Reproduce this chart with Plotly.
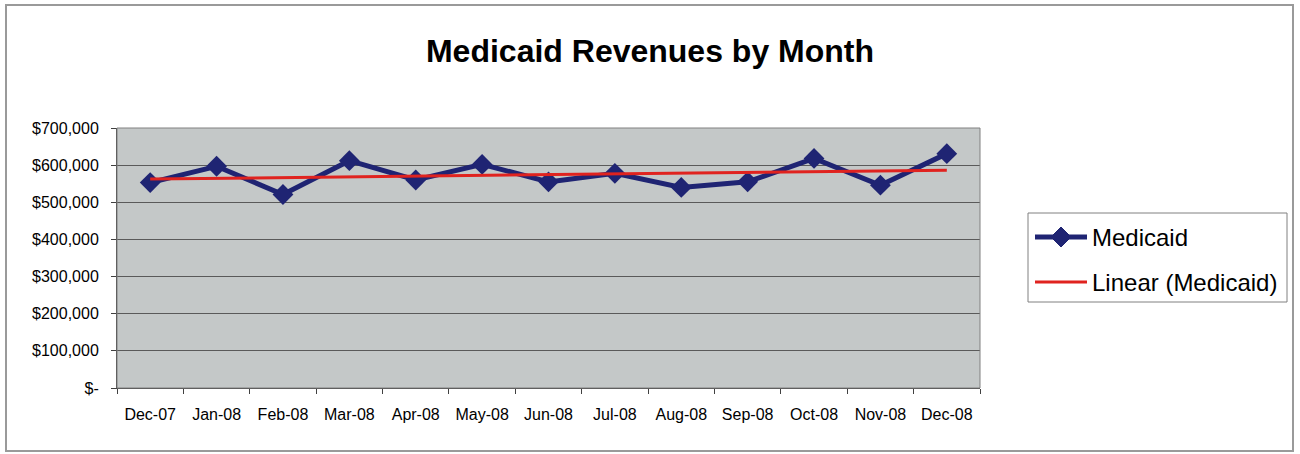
import numpy as np
import plotly.graph_objects as go

# Monthly Medicaid revenue
months = ["Dec-07", "Jan-08", "Feb-08", "Mar-08", "Apr-08", "May-08", "Jun-08",
          "Jul-08", "Aug-08", "Sep-08", "Oct-08", "Nov-08", "Dec-08"]
revenue = [553000, 597000, 521000, 612000, 560000, 602000, 555000,
           578000, 540000, 555000, 618000, 546000, 631000]

# Y axis ticks
y_tickvals = [0, 100000, 200000, 300000, 400000, 500000, 600000, 700000]
y_ticktext = ["$-", "$100,000", "$200,000", "$300,000", "$400,000",
              "$500,000", "$600,000", "$700,000"]

# Least-squares linear trend over the month index
idx = np.arange(len(revenue))
slope, intercept = np.polyfit(idx, revenue, 1)
trend = (slope * idx + intercept).tolist()

NAVY = "#1F2473"
RED = "#E0231F"
FONT = "Liberation Sans, Arial, sans-serif"

W, H = 1300, 454
L, R, T, B = 117, 320, 128, 66


def px(x):
    return (x - L) / (W - L - R)


def py(y):
    return (H - B - y) / (H - T - B)


fig = go.Figure()
fig.add_trace(go.Scatter(
    x=months, y=revenue, mode="lines+markers", name="Medicaid",
    line=dict(color=NAVY, width=5),
    marker=dict(symbol="diamond", size=16, color=NAVY),
    showlegend=False,
))
fig.add_trace(go.Scatter(
    x=months, y=trend, mode="lines", name="Linear (Medicaid)",
    line=dict(color=RED, width=3), showlegend=False,
))

shapes = []
annotations = []

# Outer chart frame
shapes.append(dict(type="rect", xref="paper", yref="paper",
                   x0=px(6), x1=px(1293), y0=py(451), y1=py(5),
                   line=dict(color="#9A9A9A", width=2), layer="below"))

# Legend box
lx0, lx1, ly0, ly1 = 1028, 1287, 213, 302
shapes.append(dict(type="rect", xref="paper", yref="paper",
                   x0=px(lx0), x1=px(lx1), y0=py(ly1), y1=py(ly0),
                   line=dict(color="#808080", width=1), fillcolor="white"))
rows = [(237, "Medicaid", NAVY, 5, True), (282, "Linear (Medicaid)", RED, 3, False)]
for yc, label, col, lw, diamond in rows:
    shapes.append(dict(type="line", xref="paper", yref="paper",
                       x0=px(1035), x1=px(1087), y0=py(yc), y1=py(yc),
                       line=dict(color=col, width=lw)))
    if diamond:
        cx, r = 1061, 10
        path = (f"M {px(cx)} {py(yc - r)} L {px(cx + r)} {py(yc)} "
                f"L {px(cx)} {py(yc + r)} L {px(cx - r)} {py(yc)} Z")
        shapes.append(dict(type="path", xref="paper", yref="paper", path=path,
                           fillcolor=col, line=dict(color=col, width=1)))
    annotations.append(dict(xref="paper", yref="paper", x=px(1090), y=py(yc),
                            xanchor="left", yanchor="middle", showarrow=False,
                            text=label, font=dict(family=FONT, size=24, color="black")))

fig.update_layout(
    width=W, height=H,
    margin=dict(l=L, r=R, t=T, b=B),
    paper_bgcolor="white",
    plot_bgcolor="#C4C8C8",
    title=dict(text="<b>Medicaid Revenues by Month</b>", x=650 / W, xref="container",
               xanchor="center", y=1 - 51 / H, yanchor="middle",
               font=dict(family=FONT, size=32, color="black")),
    shapes=shapes,
    annotations=annotations,
    showlegend=False,
)

fig.update_xaxes(
    type="category", range=[-0.5, len(months) - 0.5], tickson="boundaries",
    ticks="outside", ticklen=5, ticklabelstandoff=12,
    tickcolor="#404040", showgrid=False, showline=True, linecolor="#404040",
    linewidth=1, mirror=False, tickfont=dict(family=FONT, size=16, color="black"),
)
fig.update_yaxes(
    range=[0, 700000], tickvals=y_tickvals, ticktext=y_ticktext,
    ticks="outside", ticklen=5, tickcolor="#404040", ticklabelstandoff=9,
    showgrid=True, gridcolor="#5A5A5A", gridwidth=1,
    showline=True, linecolor="#404040", linewidth=1, zeroline=False,
    tickfont=dict(family=FONT, size=16, color="black"),
)
# Right and top borders of the plot area
fig.add_shape(type="rect", xref="paper", yref="paper", x0=0, x1=1, y0=0, y1=1,
              line=dict(color="#808080", width=1), layer="above")

fig.write_html("out.html")
